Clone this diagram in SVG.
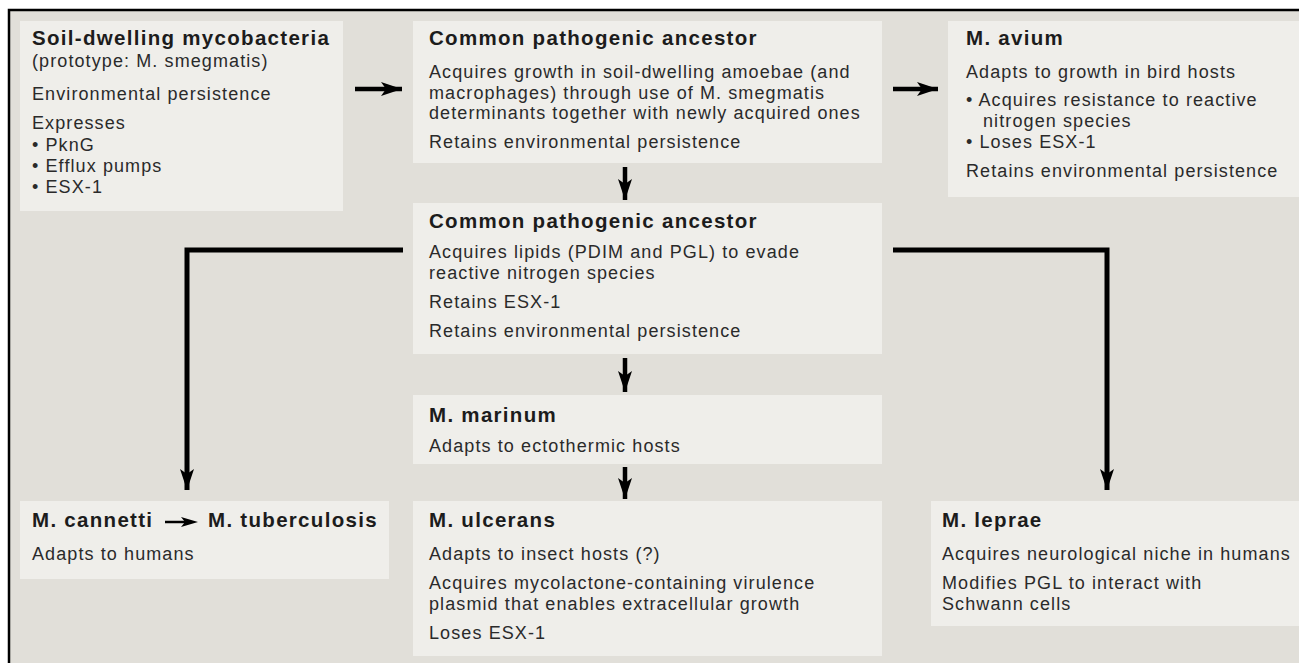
<svg xmlns="http://www.w3.org/2000/svg" width="1299" height="663" viewBox="0 0 1299 663">
<style>
.box{fill:#efeeea}
.t{font-family:"Liberation Sans",Arial,sans-serif;font-weight:bold;font-size:20.5px;letter-spacing:1.3px;fill:#1c1c1c}
.b{font-family:"Liberation Sans",Arial,sans-serif;font-size:18px;letter-spacing:1.1px;fill:#2a2a2a}
.ln{fill:none;stroke:#000;stroke-width:5}
.ar{fill:none;stroke:#000;stroke-width:4.5}
</style>
<defs>
<marker id="ah" markerUnits="userSpaceOnUse" markerWidth="24" markerHeight="16" refX="21" refY="8" orient="auto" viewBox="0 0 24 16">
<path d="M0,1 L21,8 L0,15 L5,8 z" fill="#000"/>
</marker>
</defs>
<rect x="0" y="0" width="1299" height="663" fill="#fff"/>
<rect x="9" y="11" width="1290" height="652" fill="#e1dfd9"/>
<path d="M9,663 V10 H1299" fill="none" stroke="#000" stroke-width="2.5"/>

<g id="soil">
<rect class="box" x="20" y="21" width="323" height="190"/>
<text class="t" x="32" y="45">Soil-dwelling mycobacteria</text>
<text class="b" x="32" y="67">(prototype: M. smegmatis)</text>
<text class="b" x="32" y="100">Environmental persistence</text>
<text class="b" x="32" y="129">Expresses</text>
<text class="b" x="32" y="151">• PknG</text>
<text class="b" x="32" y="172">• Efflux pumps</text>
<text class="b" x="32" y="193">• ESX-1</text>
</g>

<g id="ancestor1">
<rect class="box" x="413" y="21" width="469" height="142"/>
<text class="t" x="429" y="45">Common pathogenic ancestor</text>
<text class="b" x="429" y="78">Acquires growth in soil-dwelling amoebae (and</text>
<text class="b" x="429" y="99">macrophages) through use of M. smegmatis</text>
<text class="b" x="429" y="119">determinants together with newly acquired ones</text>
<text class="b" x="429" y="148">Retains environmental persistence</text>
</g>

<g id="avium">
<rect class="box" x="948" y="21" width="351" height="176"/>
<text class="t" x="966" y="45">M. avium</text>
<text class="b" x="966" y="78">Adapts to growth in bird hosts</text>
<text class="b" x="966" y="106">• Acquires resistance to reactive</text>
<text class="b" x="983" y="127">nitrogen species</text>
<text class="b" x="966" y="148">• Loses ESX-1</text>
<text class="b" x="966" y="177">Retains environmental persistence</text>
</g>

<g id="ancestor2">
<rect class="box" x="413" y="203" width="469" height="151"/>
<text class="t" x="429" y="228">Common pathogenic ancestor</text>
<text class="b" x="429" y="258">Acquires lipids (PDIM and PGL) to evade</text>
<text class="b" x="429" y="279">reactive nitrogen species</text>
<text class="b" x="429" y="308">Retains ESX-1</text>
<text class="b" x="429" y="337">Retains environmental persistence</text>
</g>

<g id="marinum">
<rect class="box" x="413" y="395" width="469" height="69"/>
<text class="t" x="429" y="422">M. marinum</text>
<text class="b" x="429" y="452">Adapts to ectothermic hosts</text>
</g>

<g id="ulcerans">
<rect class="box" x="413" y="501" width="469" height="155"/>
<text class="t" x="429" y="527">M. ulcerans</text>
<text class="b" x="429" y="560">Adapts to insect hosts (?)</text>
<text class="b" x="429" y="589">Acquires mycolactone-containing virulence</text>
<text class="b" x="429" y="610">plasmid that enables extracellular growth</text>
<text class="b" x="429" y="639">Loses ESX-1</text>
</g>

<g id="tuberculosis">
<rect class="box" x="20" y="501" width="369" height="78"/>
<text class="t" x="32" y="527">M. cannetti</text>
<text class="t" x="208" y="527">M. tuberculosis</text>
<line x1="165" y1="522" x2="188" y2="522" stroke="#000" stroke-width="2.5"/>
<path d="M181,517 L198,522 L181,527 L185,522 z" fill="#000"/>
<text class="b" x="32" y="560">Adapts to humans</text>
</g>

<g id="leprae">
<rect class="box" x="931" y="501" width="368" height="125"/>
<text class="t" x="942" y="527">M. leprae</text>
<text class="b" x="942" y="560">Acquires neurological niche in humans</text>
<text class="b" x="942" y="589">Modifies PGL to interact with</text>
<text class="b" x="942" y="610">Schwann cells</text>
</g>

<g id="connectors">
<line class="ar" x1="355" y1="89" x2="402" y2="89" marker-end="url(#ah)"/>
<line class="ar" x1="893" y1="89" x2="938" y2="89" marker-end="url(#ah)"/>
<line class="ar" x1="625" y1="167" x2="625" y2="200" marker-end="url(#ah)"/>
<line class="ar" x1="625" y1="358" x2="625" y2="392" marker-end="url(#ah)"/>
<line class="ar" x1="625" y1="467" x2="625" y2="499" marker-end="url(#ah)"/>
<path class="ln" d="M403,250 H187 V490" marker-end="url(#ah)"/>
<path class="ln" d="M893,250 H1107 V490" marker-end="url(#ah)"/>
</g>
</svg>
